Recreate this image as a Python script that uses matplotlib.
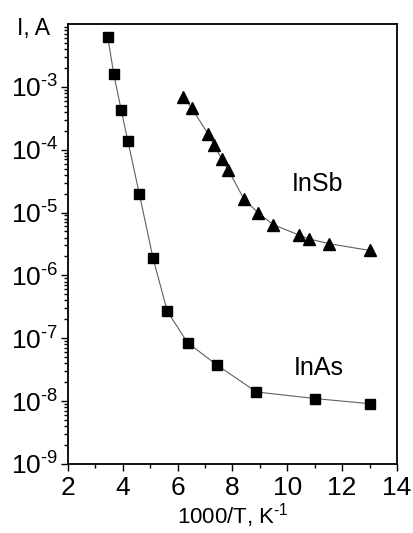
import numpy as np
import matplotlib.pyplot as plt
from matplotlib.ticker import LogLocator, NullFormatter, FuncFormatter

plt.rcParams['font.family'] = ['Liberation Sans', 'DejaVu Sans']
plt.rcParams['mathtext.fontset'] = 'custom'
plt.rcParams['mathtext.rm'] = 'Liberation Sans'
plt.rcParams['mathtext.it'] = 'Liberation Sans'
plt.rcParams['axes.unicode_minus'] = False

# InAs (squares)
inas_x = [3.45, 3.67, 3.94, 4.18, 4.6, 5.1, 5.62, 6.36, 7.42, 8.87, 11.0, 13.0]
inas_i = [6.2e-3, 1.6e-3, 4.3e-4, 1.4e-4, 2.0e-5, 1.9e-6, 2.7e-7, 8.5e-8,
          3.8e-8, 1.4e-8, 1.1e-8, 9.1e-9]

# InSb (triangles)
insb_x = [6.21, 6.51, 7.10, 7.32, 7.60, 7.84, 8.41, 8.92, 9.49, 10.42,
          10.80, 11.51, 13.0]
insb_i = [6.9e-4, 4.6e-4, 1.8e-4, 1.2e-4, 7.2e-5, 4.8e-5, 1.66e-5, 1.0e-5,
          6.4e-6, 4.4e-6, 3.8e-6, 3.2e-6, 2.5e-6]

fig = plt.figure(figsize=(4.13, 5.33), dpi=100)
ax = fig.add_axes([0.1646, 0.1295, 0.7967, 0.8255])

ax.plot(inas_x, inas_i, color='#606060', lw=0.8, marker='s', ms=7,
        mfc='black', mec='black')
ax.plot(insb_x, insb_i, color='#606060', lw=0.8, marker='^', ms=8.5,
        mfc='black', mec='black')

ax.set_yscale('log')
ax.set_xlim(2, 14)
ax.set_ylim(1e-9, 1e-2)

ax.set_xticks([2, 4, 6, 8, 10, 12, 14])
ax.set_xticks([3, 5, 7, 9, 11, 13], minor=True)
ax.set_yticks([1e-9, 1e-8, 1e-7, 1e-6, 1e-5, 1e-4, 1e-3])
ax.yaxis.set_major_formatter(FuncFormatter(
    lambda v, p: r'$10^{\text{-}%d}$' % round(-np.log10(v))))
ax.yaxis.set_minor_locator(LogLocator(base=10, subs=np.arange(2, 10), numticks=20))
ax.yaxis.set_minor_formatter(NullFormatter())

ax.tick_params(which='major', direction='out', length=5, width=1,
               labelsize=19, top=False, right=False)
ax.tick_params(axis='y', which='major', pad=2)
ax.tick_params(which='minor', direction='out', length=3, width=1,
               top=False, right=False)
for s in ax.spines.values():
    s.set_linewidth(1.3)

ax.set_xlabel(r'1000/T, K$^{\text{-}1}$', fontsize=16, labelpad=1)
fig.text(0.04, 0.947, 'I, A', fontsize=16.5, va='center', ha='left')

ax.text(11.1, 2.8e-5, 'InSb', fontsize=18, ha='center', va='center')
ax.text(11.16, 3.4e-8, 'InAs', fontsize=18, ha='center', va='center')

fig.savefig('out.png', dpi=100)
